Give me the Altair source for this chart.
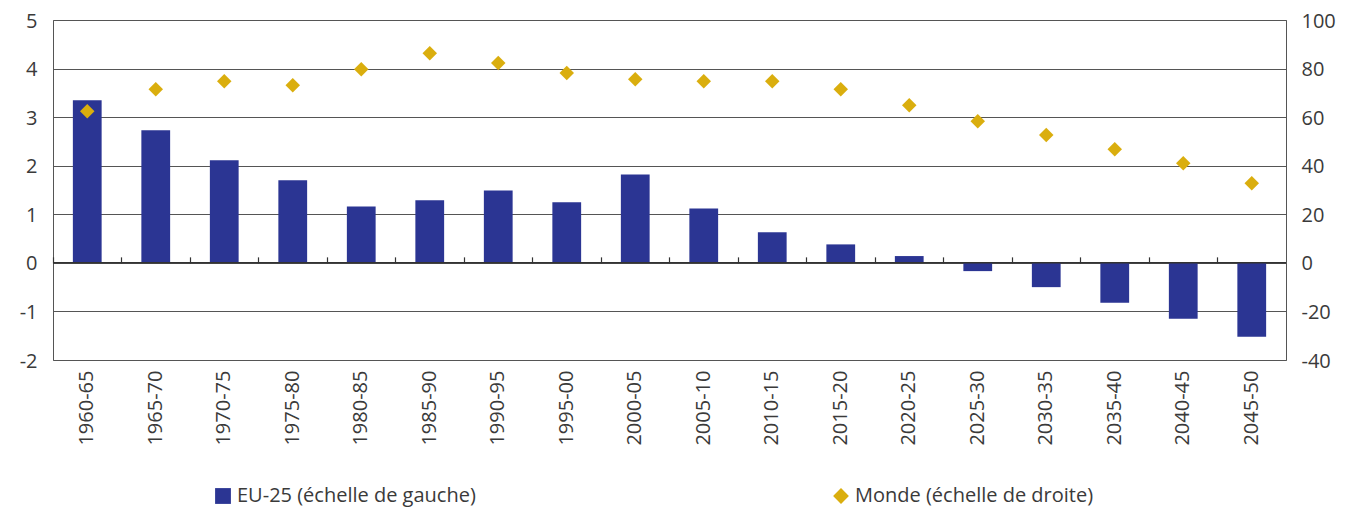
import altair as alt
import pandas as pd

periods = ["1960-65", "1965-70", "1970-75", "1975-80", "1980-85", "1985-90",
           "1990-95", "1995-00", "2000-05", "2005-10", "2010-15", "2015-20",
           "2020-25", "2025-30", "2030-35", "2035-40", "2040-45", "2045-50"]
eu25 = [3.35, 2.73, 2.11, 1.70, 1.16, 1.29, 1.49, 1.25, 1.82, 1.12, 0.63, 0.38,
        0.14, -0.17, -0.50, -0.82, -1.15, -1.52]
monde = [62.4, 71.5, 74.8, 73.1, 79.7, 86.3, 82.3, 78.2, 75.6, 74.8, 74.8, 71.5,
         64.9, 58.3, 52.6, 46.8, 41.0, 32.8]
left_ticks = [-2, -1, 0, 1, 2, 3, 4, 5]
right_ticks = [-40, -20, 0, 20, 40, 60, 80, 100]
series_names = ["EU-25 (échelle de gauche)", "Monde (échelle de droite)"]
series_colors = ["#2B3593", "#DAAE0E"]
series_shapes = ["square", "diamond"]

FONT = "Open Sans"
TXT = "#3a3a3a"
GRID = "#555555"
PLOT_H = 340
ZERO_FROM_TOP = PLOT_H * 5 / 7

df_eu = pd.DataFrame({"period": periods, "value": eu25, "series": series_names[0]})
df_mo = pd.DataFrame({"period": periods, "value": monde, "series": series_names[1]})
df_zero = pd.DataFrame({"value": [0]})

x_scale = alt.Scale(domain=periods, paddingInner=0, paddingOuter=0)
color_scale = alt.Scale(domain=series_names, range=series_colors)
shape_scale = alt.Scale(domain=series_names, range=series_shapes)

legend = alt.Legend(
    title=None, orient="none", legendX=160, legendY=466, direction="horizontal",
    columns=2, columnPadding=355, labelFont=FONT, labelFontSize=20,
    labelColor=TXT, symbolSize=250, symbolStrokeWidth=0, labelOffset=4,
    symbolOpacity=1, labelLimit=400,
)

left_axis = alt.Axis(values=left_ticks, orient="left", grid=True, gridColor=GRID,
                     gridWidth=1, ticks=False, domain=False, labelPadding=16,
                     labelOffset=1, labelFont=FONT, labelFontSize=20, labelColor=TXT,
                     labelExpr="'' + datum.value")
left_scale = alt.Scale(domain=[-2, 5], nice=False, zero=False)

bars = alt.Chart(df_eu).mark_bar(width=alt.RelativeBandSize(0.42), color=series_colors[0]).encode(
    x=alt.X("period:N", scale=x_scale, sort=periods, title=None,
            axis=alt.Axis(orient="bottom", labelAngle=270, labelAlign="right",
                          labelBaseline="middle", labelPadding=10, ticks=False,
                          domain=False, labelFont=FONT, labelFontSize=20,
                          labelColor=TXT)),
    y=alt.Y("value:Q", scale=left_scale, title=None, axis=left_axis),
    color=alt.Color("series:N", scale=color_scale, legend=legend),
)

zero_rule = alt.Chart(df_zero).mark_rule(color="#333333", strokeWidth=1.5).encode(
    y=alt.Y("value:Q", scale=left_scale, title=None, axis=left_axis),
)

left = alt.layer(bars, zero_rule)

points = alt.Chart(df_mo).mark_point(filled=True, size=210, opacity=1).encode(
    x=alt.X("period:N", scale=x_scale, sort=periods, title=None,
            axis=alt.Axis(orient="top", labels=False, domain=False, grid=False,
                          ticks=True, tickSize=6, tickColor="#333333", tickWidth=1.2,
                          bandPosition=0, offset=-ZERO_FROM_TOP)),
    y=alt.Y("value:Q", scale=alt.Scale(domain=[-40, 100], nice=False, zero=False), title=None,
            axis=alt.Axis(values=right_ticks, orient="right", grid=False, ticks=False,
                          domain=False, labelPadding=15, labelOffset=1, labelFont=FONT,
                          labelFontSize=20, labelColor=TXT,
                          labelExpr="'' + datum.value")),
    color=alt.Color("series:N", scale=color_scale, legend=legend),
    shape=alt.Shape("series:N", scale=shape_scale, legend=legend),
)

chart = alt.layer(left, points).resolve_scale(y="independent").resolve_axis(
    x="independent", y="independent"
).properties(
    width=1233, height=PLOT_H,
    autosize=alt.AutoSizeParams(type="none"),
    padding={"left": 45, "top": 12, "right": 55, "bottom": 148},
).configure_view(stroke=GRID, strokeWidth=1)

chart.save("out.html", embed_options={"renderer": "svg", "actions": False})
